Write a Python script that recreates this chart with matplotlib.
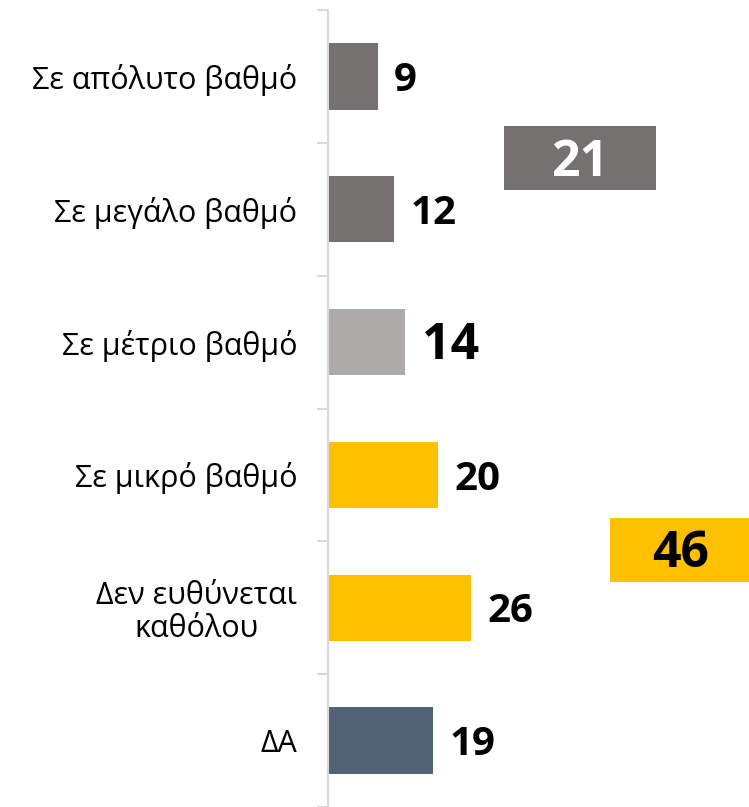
import matplotlib
matplotlib.use("Agg")
import matplotlib.pyplot as plt
from matplotlib.patches import Rectangle

plt.rcParams['font.family'] = ['Open Sans', 'DejaVu Sans']

# ── Data ──────────────────────────────────────────────────────────────────────
categories = ["Σε απόλυτο βαθμό", "Σε μεγάλο βαθμό", "Σε μέτριο βαθμό",
              "Σε μικρό βαθμό", "Δεν ευθύνεται\nκαθόλου", "ΔΑ"]
values = [9, 12, 14, 20, 26, 19]
totals = [21, 46]          # Σε απόλυτο+μεγάλο, Σε μικρό+καθόλου

GREY = "#767171"; LGREY = "#AEAAAA"; GOLD = "#FFC000"; SLATE = "#536376"
colors = [GREY, GREY, LGREY, GOLD, GOLD, SLATE]

W, H = 749, 807
fig = plt.figure(figsize=(W / 100, H / 100), dpi=100)
ax = fig.add_axes([328 / W, 0, 1 - 328 / W, (H - 10) / H])

y = range(len(categories))
ax.barh(y, values, height=0.5, color=colors)
ax.set_xlim(0, (W - 328) / 5.5)
ax.set_ylim(5.5, -0.5)

for i, v in enumerate(values):
    big = (i == 2)
    ax.annotate(str(v), (v, i), xytext=(12, -3), textcoords="offset points",
                ha="left", va="center", fontweight="bold",
                fontsize=36 if big else 29, color="black")

# summary boxes
box_specs = [(totals[0], 32.0, 0.617, GREY, "white"),
             (totals[1], 51.3, 3.564, GOLD, "black")]
for val, x0, yc, fc, tc in box_specs:
    w = 27.6 if fc == GREY else 25.5
    ax.add_patch(Rectangle((x0, yc - 0.24), w, 0.48, facecolor=fc,
                           edgecolor="none", clip_on=False))
    ax.annotate(str(val), (x0 + w / 2, yc), xytext=(0, -3),
                textcoords="offset points", ha="center", va="center",
                fontsize=36, fontweight="bold", color=tc,
                annotation_clip=False)

# axes styling
for s in ["top", "right", "bottom"]:
    ax.spines[s].set_visible(False)
ax.spines["left"].set_color("#D9D9D9")
ax.spines["left"].set_linewidth(1.5)
ax.set_xticks([])
ax.set_yticks(list(y))
ax.set_yticklabels(categories, fontsize=22, color="black",
                   multialignment="center", linespacing=1.1)
ax.tick_params(axis="y", which="major", length=0, pad=22)
ax.set_yticks([i - 0.5 for i in range(len(categories) + 1)], minor=True)
ax.tick_params(axis="y", which="minor", length=8, width=1.5, color="#D9D9D9")

plt.savefig("out.png", dpi=100)
plt.close()
